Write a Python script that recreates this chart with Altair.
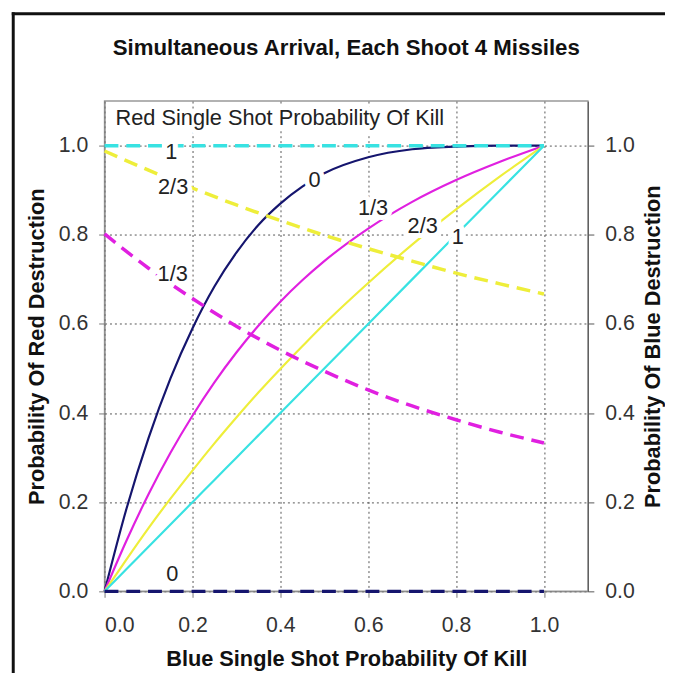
import altair as alt
import pandas as pd

# ---- values ----
# Blue single shot probability of kill (x) for the solid curves
P = [0.0, 0.05, 0.1, 0.15, 0.2, 0.25, 0.3, 0.35, 0.4, 0.45, 0.5, 0.6, 0.7, 0.8, 0.9, 1.0]
# Probability of Red destruction, one list per Red single shot PK
red_pk0 = [0.0, 0.186, 0.344, 0.478, 0.590, 0.684, 0.760, 0.822, 0.870, 0.908, 0.938, 0.974, 0.992, 0.998, 1.0, 1.0]
red_pk13 = [0.0, 0.114, 0.218, 0.311, 0.394, 0.469, 0.536, 0.596, 0.650, 0.698, 0.741, 0.814, 0.874, 0.923, 0.964, 1.0]
red_pk23 = [0.0, 0.072, 0.142, 0.208, 0.271, 0.332, 0.390, 0.446, 0.499, 0.550, 0.600, 0.692, 0.778, 0.857, 0.931, 1.0]
red_pk1 = [0.0, 0.05, 0.1, 0.15, 0.2, 0.25, 0.3, 0.35, 0.4, 0.45, 0.5, 0.6, 0.7, 0.8, 0.9, 1.0]

# Blue single shot probability of kill (x) for the dashed curves
Q = [0.0, 0.1, 0.2, 0.3, 0.4, 0.5, 0.6, 0.7, 0.8, 0.9, 1.0]
# Probability of Blue destruction, one list per Red single shot PK
blue_pk0 = [0.0, 0.0, 0.0, 0.0, 0.0, 0.0, 0.0, 0.0, 0.0, 0.0, 0.0]
blue_pk13 = [0.802, 0.725, 0.657, 0.595, 0.541, 0.494, 0.452, 0.416, 0.385, 0.357, 0.333]
blue_pk23 = [0.988, 0.945, 0.905, 0.867, 0.832, 0.799, 0.769, 0.741, 0.714, 0.690, 0.667]
blue_pk1 = [1.0, 1.0, 1.0, 1.0, 1.0, 1.0, 1.0, 1.0, 1.0, 1.0, 1.0]

series = ["0", "1/3", "2/3", "1"]
colors = ["#15156e", "#e020e0", "#eeee3a", "#38e2e2"]

solid_label_text = ["0", "1/3", "2/3", "1"]
solid_label_x = [0.478, 0.611, 0.724, 0.804]
solid_label_y = [0.922, 0.861, 0.820, 0.796]
dashed_label_text = ["1", "2/3", "1/3", "0"]
dashed_label_x = [0.152, 0.156, 0.155, 0.154]
dashed_label_y = [0.985, 0.908, 0.713, 0.039]

legend_title = ["Red Single Shot Probability Of Kill"]
legend_title_x = [0.025]
legend_title_y = [1.063]

ticks = [0.0, 0.2, 0.4, 0.6, 0.8, 1.0]
FONT = "Liberation Sans"
TXT = 22

# ---- tables ----
solid_rows = []
for name, vals in zip(series, [red_pk0, red_pk13, red_pk23, red_pk1]):
    for p, v in zip(P, vals):
        solid_rows.append({"p": p, "v": v, "s": name})
solid_df = pd.DataFrame(solid_rows)

dashed_rows = []
for name, vals in zip(series, [blue_pk0, blue_pk13, blue_pk23, blue_pk1]):
    for p, v in zip(Q, vals):
        dashed_rows.append({"p": p, "v": v, "s": name})
dashed_df = pd.DataFrame(dashed_rows)

labels_df = pd.DataFrame({
    "p": solid_label_x + dashed_label_x,
    "v": solid_label_y + dashed_label_y,
    "t": solid_label_text + dashed_label_text,
})
head_df = pd.DataFrame({"p": legend_title_x, "v": legend_title_y, "t": legend_title})

xscale = alt.Scale(domain=[0, 1.1], nice=False, zero=False)
yscale = alt.Scale(domain=[0, 1.1], nice=False, zero=False)
cscale = alt.Scale(domain=series, range=colors)

xaxis = alt.Axis(
    title="Blue Single Shot Probability Of Kill", values=ticks, format=".1f",
    grid=True, gridDash=[2, 3], gridColor="#555555", gridWidth=1,
    domainColor="#8a8a8a", tickColor="#777777", tickSize=6,
    labelPadding=18, titlePadding=13,
)
left_axis = alt.Axis(
    title="Probability Of Red Destruction", values=ticks, format=".1f",
    grid=True, gridDash=[2, 3], gridColor="#555555", gridWidth=1,
    domainColor="#8a8a8a", tickColor="#777777", tickSize=6,
    labelPadding=11, titlePadding=10,
)
right_axis = alt.Axis(
    orient="right", title="Probability Of Blue Destruction", values=ticks, format=".1f",
    grid=False, domainColor="#555555", tickColor="#555555", tickSize=6,
    labelPadding=11, titlePadding=9, titleAngle=270, titleBaseline="top",
)

X = alt.X("p:Q", scale=xscale, axis=xaxis)

solid = alt.Chart(solid_df).mark_line(strokeWidth=2.2, interpolate="monotone").encode(
    x=X,
    y=alt.Y("v:Q", scale=yscale, axis=left_axis),
    color=alt.Color("s:N", scale=cscale, legend=None),
    detail="s:N",
)

dashed = alt.Chart(dashed_df).mark_line(
    strokeWidth=3.5, strokeDash=[14, 8], interpolate="monotone"
).encode(
    x=X,
    y=alt.Y("v:Q", scale=yscale, axis=right_axis),
    color=alt.Color("s:N", scale=cscale, legend=None),
    detail="s:N",
)

halo = alt.Chart(labels_df).mark_text(
    font=FONT, fontSize=TXT, color="white", stroke="white", strokeWidth=10,
    strokeJoin="round", align="center", baseline="middle",
).encode(x=X, y=alt.Y("v:Q", scale=yscale, axis=None), text="t:N")

labels = alt.Chart(labels_df).mark_text(
    font=FONT, fontSize=TXT, color="#222222", align="center", baseline="middle",
).encode(x=X, y=alt.Y("v:Q", scale=yscale, axis=None), text="t:N")

head_halo = alt.Chart(head_df).mark_text(
    font=FONT, fontSize=TXT, color="white", stroke="white", strokeWidth=10,
    strokeJoin="round", align="left", baseline="middle",
).encode(x=X, y=alt.Y("v:Q", scale=yscale, axis=None), text="t:N")

head = alt.Chart(head_df).mark_text(
    font=FONT, fontSize=TXT, color="#222222", align="left", baseline="middle",
).encode(x=X, y=alt.Y("v:Q", scale=yscale, axis=None), text="t:N")

# decorative outer frame (top and left black edges of the picture)
frame_src = alt.Data(values=[{"a": 1}])
frame_left = alt.Chart(frame_src).mark_rule(color="#111111", strokeWidth=3).encode(
    x=alt.value(-92.4), y=alt.value(-89.8), y2=alt.value(585)
)
frame_top = alt.Chart(frame_src).mark_rule(color="#111111", strokeWidth=3).encode(
    x=alt.value(-93.9), x2=alt.value(570), y=alt.value(-88.3)
)

chart = alt.layer(
    solid, dashed, halo, labels, head_halo, head, frame_left, frame_top
).resolve_scale(
    y="independent"
).properties(
    width=489,
    height=496,
    title=alt.TitleParams(
        "Simultaneous Arrival, Each Shoot 4 Missiles",
        font=FONT, fontSize=22.5, fontWeight="bold", color="#111111",
        anchor="middle", frame="group", offset=-49,
    ),
    autosize=alt.AutoSizeParams(type="none"),
    padding={"left": 97.7, "top": 90.3, "right": 78, "bottom": 79},
).configure_view(
    stroke="#999999", strokeWidth=1.5
).configure_axis(
    labelFont=FONT, labelFontSize=21.5, labelColor="#333333",
    titleFont=FONT, titleFontSize=22, titleFontWeight="bold", titleColor="#111111",
)

chart.save("out.html", embed_options={"renderer": "svg", "actions": False})
